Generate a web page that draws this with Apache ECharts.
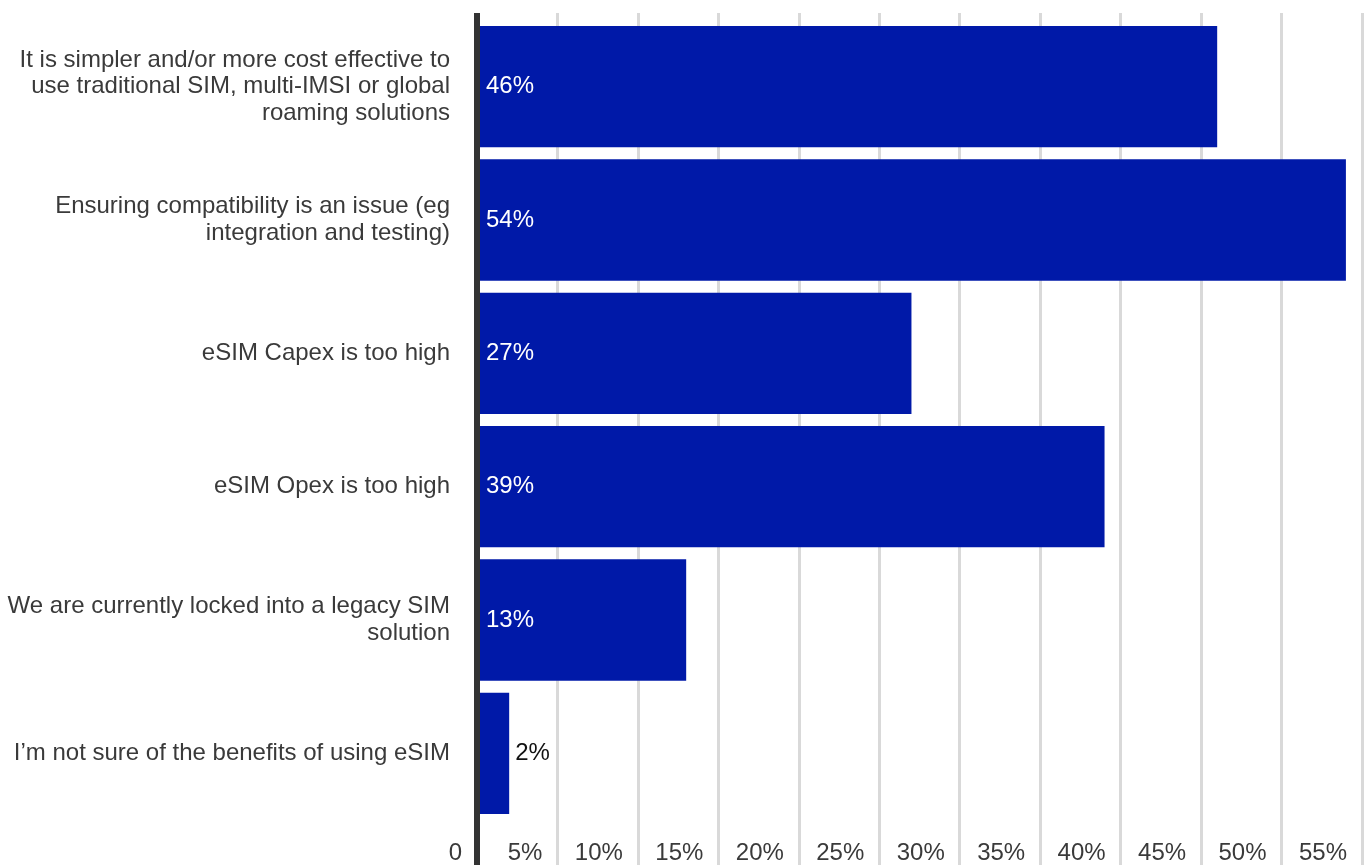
<!DOCTYPE html>
<html>
<head>
<meta charset="utf-8">
<title>eSIM barriers</title>
<script src="https://cdn.jsdelivr.net/npm/echarts@6/dist/echarts.min.js"></script>
<style>
  html, body { margin: 0; padding: 0; background: #fff; }
  #chart { width: 1364px; height: 865px; }
</style>
</head>
<body>
<div id="chart"></div>
<script>
// Survey responses: reasons for not adopting eSIM (share of respondents, %)
const categories = [
  'It is simpler and/or more cost effective to\nuse traditional SIM, multi-IMSI or global\nroaming solutions',
  'Ensuring compatibility is an issue (eg\nintegration and testing)',
  'eSIM Capex is too high',
  'eSIM Opex is too high',
  'We are currently locked into a legacy SIM\nsolution',
  'I\u2019m not sure of the benefits of using eSIM'
];
const shares = [46, 54, 27, 39, 13, 2];
const tickMin = 0;
const tickMax = 55;
const tickStep = 5;

const FONT = '"Liberation Sans", Arial, sans-serif';
const TEXT = '#3a3a3a';
const BAR = '#0019a8';
const PLOT_LEFT = 477;
const PLOT_RIGHT = 2;

const chart = echarts.init(document.getElementById('chart'), null, { renderer: 'canvas' });

// Short bars get their label outside, in dark text
const barData = shares.map(v => v < 5
  ? { value: v, label: { position: 'right', distance: 6, color: '#111' } }
  : { value: v });

chart.setOption({
  animation: false,
  textStyle: { fontFamily: FONT },
  grid: [
    { left: PLOT_LEFT, right: PLOT_RIGHT, top: 20, bottom: 45, containLabel: false },
    // full-height frame carrying the gridlines and the dark baseline
    { left: PLOT_LEFT, right: PLOT_RIGHT, top: 13, bottom: 0, containLabel: false }
  ],
  xAxis: [
    {
      gridIndex: 0,
      type: 'value',
      min: tickMin,
      max: tickMax,
      interval: tickStep,
      axisLine: { show: false },
      axisTick: { show: false },
      splitLine: { show: false },
      axisLabel: {
        fontFamily: FONT,
        fontSize: 24,
        color: TEXT,
        align: 'right',
        padding: [0, 15, 0, 0],
        margin: 21,
        formatter: v => v === 0 ? '0' : v + '%'
      }
    },
    {
      gridIndex: 1,
      type: 'value',
      min: tickMin,
      max: tickMax,
      interval: tickStep,
      axisLine: { show: false },
      axisTick: { show: false },
      axisLabel: { show: false },
      splitLine: { show: true, lineStyle: { color: '#d9d9d9', width: 3 } }
    }
  ],
  yAxis: [
    {
      gridIndex: 0,
      type: 'category',
      data: categories,
      inverse: true,
      axisLine: { show: false },
      axisTick: { show: false },
      axisLabel: {
        fontFamily: FONT,
        fontSize: 24,
        lineHeight: 26.5,
        color: TEXT,
        margin: 27,
        align: 'right'
      }
    },
    {
      gridIndex: 1,
      type: 'value',
      min: 0,
      max: 1,
      z: 10,
      axisLine: { show: true, onZero: false, lineStyle: { color: '#333', width: 6, cap: 'butt' } },
      axisTick: { show: false },
      axisLabel: { show: false },
      splitLine: { show: false }
    }
  ],
  series: [
    {
      type: 'bar',
      xAxisIndex: 0,
      yAxisIndex: 0,
      data: barData,
      barCategoryGap: '9%',
      itemStyle: { color: BAR },
      label: {
        show: true,
        position: 'insideLeft',
        distance: 9,
        fontFamily: FONT,
        fontSize: 24,
        color: '#fff',
        formatter: '{c}%'
      }
    }
  ]
});
</script>
</body>
</html>
